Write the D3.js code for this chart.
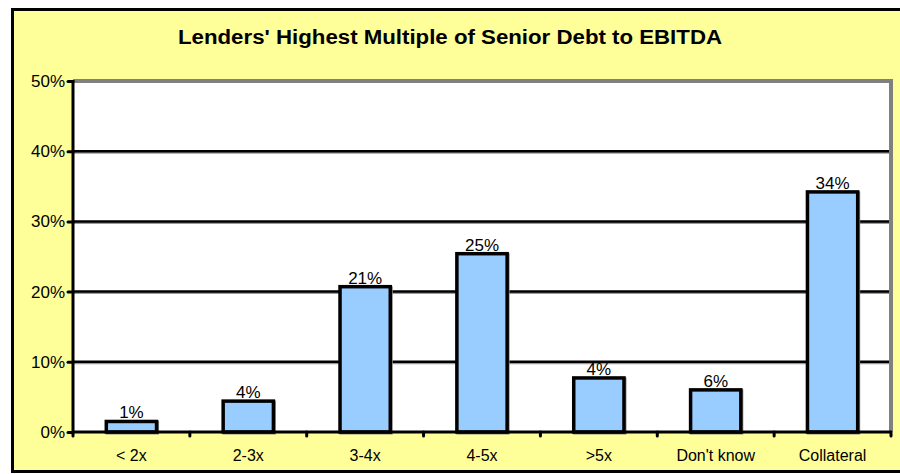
<!DOCTYPE html>
<html>
<head>
<meta charset="utf-8">
<script src="https://cdn.jsdelivr.net/npm/d3@7"></script>
<style>
  body { margin: 0; background: #fff; }
  svg { display: block; font-family: "Liberation Sans", Arial, sans-serif; }
</style>
</head>
<body>
<svg id="chart" width="900" height="474"></svg>
<script>
// values (percent), labels as printed on the chart
var categories = ['< 2x', '2-3x', '3-4x', '4-5x', '>5x', "Don't know", 'Collateral'];
var values = [1.5, 4.4, 20.7, 25.4, 7.7, 6.0, 34.2];
var valueLabels = ['1%', '4%', '21%', '25%', '4%', '6%', '34%'];
var yTicks = [0, 10, 20, 30, 40, 50];
var title = "Lenders' Highest Multiple of Senior Debt to EBITDA";

var svg = d3.select('#chart');

var plot = { left: 73, top: 81, right: 891, bottom: 432 };

// outer yellow frame
svg.append('rect')
    .attr('x', 12.5).attr('y', 9.5)
    .attr('width', 900).attr('height', 462)
    .attr('fill', '#ffff99')
    .attr('stroke', '#000').attr('stroke-width', 3);

svg.append('text')
    .attr('x', 450).attr('y', 44)
    .attr('text-anchor', 'middle')
    .attr('font-size', 20)
    .attr('font-weight', 'bold')
    .attr('textLength', 544)
    .attr('lengthAdjust', 'spacingAndGlyphs')
    .text(title);

var x = d3.scaleBand()
    .domain(categories)
    .range([plot.left, plot.right])
    .paddingInner(0.57)
    .paddingOuter(0.285);

var y = d3.scaleLinear()
    .domain([0, 50])
    .range([plot.bottom, plot.top]);

// plot area
svg.append('rect')
    .attr('x', plot.left).attr('y', plot.top)
    .attr('width', plot.right - plot.left).attr('height', plot.bottom - plot.top)
    .attr('fill', '#fff');

// gray top and right border
svg.append('path')
    .attr('d', 'M' + plot.left + ',' + (plot.top) + 'H' + plot.right + 'V' + plot.bottom)
    .attr('fill', 'none')
    .attr('stroke', '#808080')
    .attr('stroke-width', 4);

// gridlines with a gray shadow
var grid = svg.append('g');
yTicks.filter(function(t) { return t > 0 && t < 50; }).forEach(function(t) {
    grid.append('line')
        .attr('x1', plot.left).attr('x2', plot.right - 2)
        .attr('y1', y(t) + 1.5).attr('y2', y(t) + 1.5)
        .attr('stroke', '#999').attr('stroke-width', 2);
    grid.append('line')
        .attr('x1', plot.left).attr('x2', plot.right - 2)
        .attr('y1', y(t)).attr('y2', y(t))
        .attr('stroke', '#000').attr('stroke-width', 2.5);
});

// bars
var bars = svg.append('g');
bars.selectAll('rect.shadow')
    .data(values)
    .enter().append('rect')
    .attr('class', 'shadow')
    .attr('x', function(d, i) { return x(categories[i]) + 1; })
    .attr('y', function(d) { return y(d) + 1; })
    .attr('width', x.bandwidth())
    .attr('height', function(d) { return y(0) - y(d); })
    .attr('fill', 'none')
    .attr('stroke', '#888').attr('stroke-width', 3);
bars.selectAll('rect.bar')
    .data(values)
    .enter().append('rect')
    .attr('class', 'bar')
    .attr('x', function(d, i) { return x(categories[i]); })
    .attr('y', function(d) { return y(d); })
    .attr('width', x.bandwidth())
    .attr('height', function(d) { return y(0) - y(d); })
    .attr('fill', '#99ccff')
    .attr('stroke', '#000').attr('stroke-width', 3.5);

bars.selectAll('text')
    .data(values)
    .enter().append('text')
    .attr('x', function(d, i) { return x(categories[i]) + x.bandwidth() / 2; })
    .attr('y', function(d) { return y(d) - 3; })
    .attr('text-anchor', 'middle')
    .attr('font-size', 17)
    .text(function(d, i) { return valueLabels[i]; });

// axes
var yAxis = svg.append('g')
    .attr('transform', 'translate(' + plot.left + ',0)')
    .call(d3.axisLeft(y).tickValues(yTicks).tickSize(5).tickPadding(3)
        .tickFormat(function(d) { return d + '%'; }));
yAxis.select('.domain').remove();
yAxis.selectAll('.tick line').attr('stroke', '#000').attr('stroke-width', 3).attr('stroke-linecap', 'round');
yAxis.selectAll('.tick text')
    .attr('font-family', '"Liberation Sans", Arial, sans-serif')
    .attr('font-size', 17).attr('fill', '#000');

var xAxis = svg.append('g')
    .attr('transform', 'translate(0,' + plot.bottom + ')')
    .call(d3.axisBottom(x).tickSize(0).tickPadding(18));
xAxis.select('.domain').remove();
xAxis.selectAll('.tick text')
    .attr('font-family', '"Liberation Sans", Arial, sans-serif')
    .attr('font-size', 16).attr('fill', '#000');

// category boundary ticks
var bounds = categories.map(function(c) { return x(c) - x.step() * x.paddingInner() / 2; })
    .concat([plot.right]);
svg.append('g').selectAll('line')
    .data(bounds)
    .enter().append('line')
    .attr('x1', function(d) { return d; }).attr('x2', function(d) { return d; })
    .attr('y1', plot.bottom).attr('y2', plot.bottom + 4)
    .attr('stroke', '#000').attr('stroke-width', 3).attr('stroke-linecap', 'round');

// axis lines
svg.append('line')
    .attr('x1', plot.left).attr('x2', plot.right)
    .attr('y1', plot.bottom).attr('y2', plot.bottom)
    .attr('stroke', '#000').attr('stroke-width', 3);
svg.append('line')
    .attr('x1', plot.left).attr('x2', plot.left)
    .attr('y1', plot.top - 1).attr('y2', plot.bottom + 1)
    .attr('stroke', '#000').attr('stroke-width', 3);
</script>
</body>
</html>
